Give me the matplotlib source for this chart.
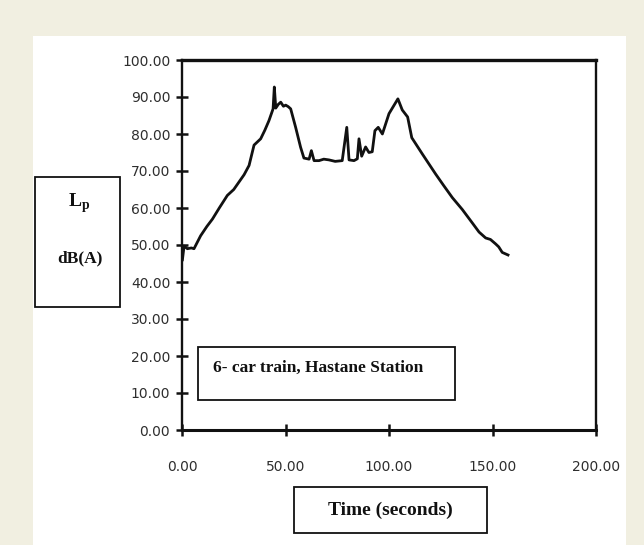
import matplotlib
matplotlib.use("Agg")
import matplotlib.pyplot as plt
from matplotlib.patches import Rectangle

# sound level trace
time_s = [0.2, 1.0, 2.6, 4.5, 5.8, 9.0, 12.0, 14.7, 18.0, 21.9, 25.0, 27.5, 30.0,
          32.4, 34.8, 38.0, 40.0, 42.0, 44.0, 44.6, 45.3, 46.5, 47.7, 49.0, 50.1,
          51.3, 52.5, 54.9, 57.3, 58.9, 61.4, 62.5, 63.8, 66.2, 68.5, 71.0, 74.0,
          77.4, 79.6, 80.7, 83.1, 84.7, 85.5, 86.8, 88.7, 90.3, 91.9, 93.2, 94.8,
          96.8, 100.0, 104.3, 106.4, 109.0, 111.0, 116.1, 122.5, 126.5, 130.6,
          135.4, 140.2, 143.5, 146.7, 149.0, 151.5, 153.0, 154.7, 157.5]
level_db = [46.0, 49.7, 49.0, 49.2, 49.0, 52.5, 55.0, 57.0, 60.0, 63.4, 65.0, 67.0, 69.0,
            71.5, 77.0, 78.7, 81.0, 83.6, 86.8, 92.7, 87.0, 88.0, 88.6, 87.5, 87.8,
            87.4, 86.8, 81.8, 76.4, 73.5, 73.2, 75.5, 72.8, 72.8, 73.2, 73.0, 72.6,
            72.8, 81.8, 73.0, 72.8, 73.3, 78.7, 74.0, 76.5, 75.0, 75.2, 80.9, 81.8,
            80.0, 85.5, 89.5, 86.5, 84.6, 79.0, 74.6, 69.2, 66.0, 62.8, 59.6, 56.0,
            53.5, 51.9, 51.5, 50.3, 49.5, 48.0, 47.3]

x_ticks = [0, 50, 100, 150, 200]
y_ticks = [0, 10, 20, 30, 40, 50, 60, 70, 80, 90, 100]

W, H = 644, 545
fig = plt.figure(figsize=(W / 100, H / 100), dpi=100)
fig.patch.set_facecolor("#f1efe1")

# white paper area
fig.patches.append(Rectangle((33 / W, 0), (626 - 33) / W, 1 - 36 / H,
                             transform=fig.transFigure, facecolor="white",
                             edgecolor="none", zorder=-10))

ax = fig.add_axes([182 / W, 1 - 430 / H, (596 - 182) / W, (430 - 60) / H])
ax.set_zorder(1)
ax.set_facecolor("white")
ax.plot(time_s, level_db, color="#111111", lw=2.0)
ax.set_xlim(0, 200)
ax.set_ylim(0, 100)
ax.set_xticks(x_ticks)
ax.set_yticks(y_ticks)
ax.set_xticklabels([f"{v:.2f}" for v in x_ticks])
ax.set_yticklabels([f"{v:.2f}" for v in y_ticks])
for s in ax.spines.values():
    s.set_linewidth(1.7)
    s.set_color("#111111")
ax.spines["top"].set_linewidth(2.4)
ax.spines["bottom"].set_linewidth(2.2)
ax.tick_params(axis="both", direction="inout", length=9, width=1.8,
               colors="#111111", labelcolor="#2e2e2e", labelsize=10)
ax.tick_params(axis="y", pad=4)
ax.tick_params(axis="x", pad=17)

serif = "Liberation Serif"

# y label box
fig.patches.append(Rectangle((35 / W, 1 - 307 / H), 85 / W, 130 / H,
                             transform=fig.transFigure, facecolor="none",
                             edgecolor="#111111", lw=1.3, zorder=5))
fig.text(79 / W, 1 - 203 / H, "L$_\\mathregular{p}$", family=serif, weight="bold",
         fontsize=14, ha="center", va="center", color="#111111", zorder=6)
fig.text(80 / W, 1 - 258 / H, "dB(A)", family=serif, weight="bold",
         fontsize=12.5, ha="center", va="center", color="#111111", zorder=6)

# annotation box, drawn on top of the axes
ax.add_patch(Rectangle((198 / W, 1 - 400 / H), 257 / W, 53 / H,
                       transform=fig.transFigure, facecolor="white",
                       edgecolor="#111111", lw=1.3, zorder=5, clip_on=False))
ax.text(213 / W, 1 - 368 / H, "6- car train, Hastane Station", family=serif,
        weight="bold", fontsize=12.5, ha="left", va="center", color="#111111",
        transform=fig.transFigure, zorder=6)

# x label box
fig.patches.append(Rectangle((294 / W, 1 - 533 / H), 193 / W, 46 / H,
                             transform=fig.transFigure, facecolor="white",
                             edgecolor="#111111", lw=1.3, zorder=5))
fig.text(390 / W, 1 - 510 / H, "Time (seconds)", family=serif, weight="bold",
         fontsize=14, ha="center", va="center", color="#111111", zorder=6)

fig.savefig("out.png", dpi=100, facecolor=fig.get_facecolor())
